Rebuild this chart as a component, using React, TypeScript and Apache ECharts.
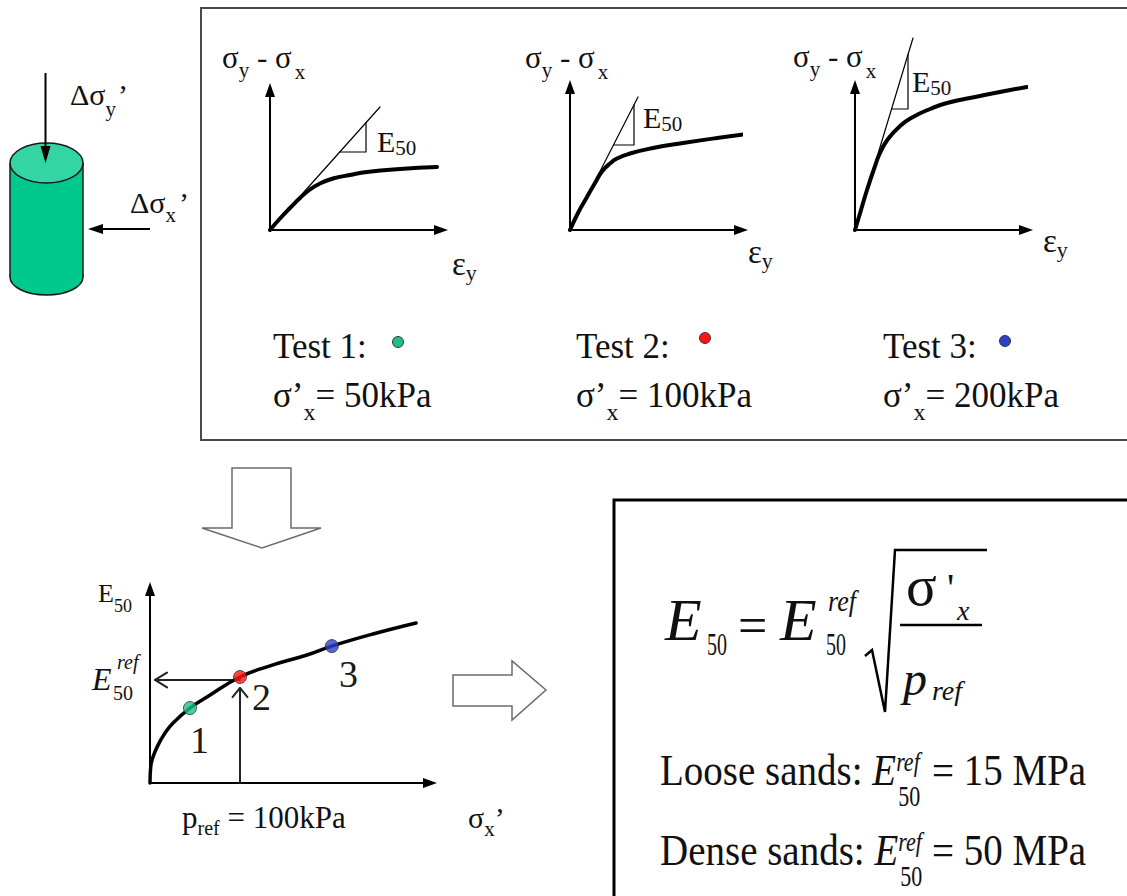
import React, { useEffect, useRef } from 'react';
import * as echarts from 'echarts';

const SERIF = '"Liberation Serif", "Times New Roman", serif';
const INK = '#111';

// ---------- Top row: three triaxial tests (units: strain / deviator stress, plot units) ----------
const test1Curve = [[0, 0], [10, 11.5], [20, 22], [30, 32], [40, 40.5], [50, 46.5], [63, 51.5], [80, 55], [97, 58], [130, 61], [167, 63]];
const test2Curve = [[0, 0], [8, 17], [17, 33], [25, 47], [32, 58.5], [40, 66.5], [47, 71.5], [60, 76.5], [83, 82], [113, 87], [147, 92], [185, 97]];
const test3Curve = [[0, 0], [6, 20], [12, 40], [19, 61], [25, 77], [33, 91], [45, 104], [58, 113], [75, 121], [92, 127], [125, 134], [150, 139], [172, 143]];
const test1Secant = [[0, 0], [110, 123]];
const test2Secant = [[0, 0], [68, 133]];
const test3Secant = [[0, 0], [58, 192]];
const test1Slope = [[69.8, 78], [96, 78], [96, 107.3]];
const test2Slope = [[43.5, 85], [64, 85], [64, 125.2]];
const test3Slope = [[36.6, 121], [53, 121], [53, 175.4]];
const testNames = ['Test 1:', 'Test 2:', 'Test 3:'];
const confiningTexts = ['= 50kPa', '= 100kPa', '= 200kPa'];
const testColors = ['#1fbf8c', '#ff1414', '#2f3fc8'];

// ---------- E50 vs sigma'x ----------
const e50Curve = [[0, 0], [0.8, 7.6], [3.3, 12.3], [8.9, 17.9], [16.7, 23.6], [25.6, 28.4], [44.4, 35.4], [63.3, 40.6], [100, 50.1], [136.7, 55.8], [174.4, 60.5], [202, 64.7], [247.8, 70.4], [295.6, 75.6]];
const e50Points = [[44.4, 35.4], [100, 50.1], [202, 64.7]];
const pointLabels = ['1', '2', '3'];
const P_REF = 100;
const E50_REF = 48.7;
const E_ARROW_TIP = 5.6;
const P_ARROW_TIP = 44.9;

const measureCtx: CanvasRenderingContext2D | null =
  typeof document !== 'undefined' ? document.createElement('canvas').getContext('2d') : null;
function textWidth(t: string, fs: number, it?: boolean) {
  if (!measureCtx) return t.length * fs * 0.5;
  measureCtx.font = `${it ? 'italic ' : ''}${fs}px ${SERIF}`;
  return measureCtx.measureText(t).width;
}

type Part = { t: string; fs: number; b: number; it?: boolean; x?: number; sy?: number; gap?: number; fill?: string };

function textEl(t: string, x: number, b: number, fs: number, it = false, sy = 1, fill = INK) {
  return {
    type: 'text',
    x,
    y: b,
    scaleY: sy,
    silent: true,
    style: {
      x: 0,
      y: -0.3375 * fs,
      text: t,
      font: `${it ? 'italic ' : ''}${fs}px ${SERIF}`,
      fill,
      align: 'left',
      verticalAlign: 'middle',
      textAlign: 'left',
      textVerticalAlign: 'middle',
    },
  };
}

function run(x0: number, parts: Part[]) {
  const els: any[] = [];
  let x = x0;
  for (const p of parts) {
    const px = p.x != null ? p.x : x + (p.gap || 0);
    els.push(textEl(p.t, px, p.b, p.fs, !!p.it, p.sy || 1, p.fill || INK));
    x = px + textWidth(p.t, p.fs, p.it);
  }
  return els;
}

function buildGraphic() {
  const els: any[] = [];
  // boxes
  els.push({ type: 'rect', silent: true, shape: { x: 201, y: 8, width: 960, height: 432 }, style: { fill: 'none', stroke: '#4a4a4a', lineWidth: 2 } });
  els.push({ type: 'rect', silent: true, shape: { x: 614, y: 500, width: 560, height: 440 }, style: { fill: 'none', stroke: '#000', lineWidth: 3 } });

  // cylinder
  const cyl = '#00c98d';
  els.push({ type: 'ellipse', silent: true, shape: { cx: 46.5, cy: 277, rx: 36.5, ry: 18 }, style: { fill: cyl, stroke: '#1a1a1a', lineWidth: 1.5 } });
  els.push({ type: 'rect', silent: true, shape: { x: 10, y: 163, width: 73, height: 114 }, style: { fill: cyl } });
  els.push({ type: 'line', silent: true, shape: { x1: 10, y1: 163, x2: 10, y2: 277 }, style: { stroke: '#1a1a1a', lineWidth: 1.5 } });
  els.push({ type: 'line', silent: true, shape: { x1: 83, y1: 163, x2: 83, y2: 277 }, style: { stroke: '#1a1a1a', lineWidth: 1.5 } });
  els.push({ type: 'ellipse', silent: true, shape: { cx: 46.5, cy: 163, rx: 36.5, ry: 20 }, style: { fill: '#33d6a3', stroke: '#1a1a1a', lineWidth: 1.5 } });
  // load arrows
  els.push({ type: 'line', silent: true, shape: { x1: 45.5, y1: 73, x2: 45.5, y2: 150 }, style: { stroke: '#000', lineWidth: 2 } });
  els.push({ type: 'polygon', silent: true, shape: { points: [[40.5, 146], [50.5, 146], [45.5, 163]] }, style: { fill: '#000' } });
  els.push({ type: 'line', silent: true, shape: { x1: 150, y1: 229, x2: 98, y2: 229 }, style: { stroke: '#000', lineWidth: 2 } });
  els.push({ type: 'polygon', silent: true, shape: { points: [[103, 224], [103, 234], [88, 229]] }, style: { fill: '#000' } });
  els.push(...run(70, [{ t: 'Δσ', fs: 30, b: 105 }, { t: 'y', fs: 21, b: 116 }, { t: '’', fs: 30, b: 105, gap: 2 }]));
  els.push(...run(130, [{ t: 'Δσ', fs: 30, b: 213 }, { t: 'x', fs: 21, b: 222 }, { t: '’', fs: 30, b: 213, gap: 3 }]));

  // plot titles
  const titleX = [222, 525, 793];
  const titleB = [68, 68, 67];
  titleX.forEach((x, i) => {
    els.push(...run(x, [
      { t: 'σ', fs: 31, b: titleB[i] },
      { t: 'y', fs: 21, b: titleB[i] + 9 },
      { t: ' - σ', fs: 31, b: titleB[i] },
      { t: 'x', fs: 21, b: titleB[i] + 11, gap: 3 },
    ]));
  });
  // E50 labels
  const eLab = [[377, 152], [643, 128], [912, 92]];
  eLab.forEach(([x, b]) => {
    els.push(...run(x, [{ t: 'E', fs: 30, b }, { t: '50', fs: 21, b: b + 3 }]));
  });
  // strain labels
  const epsLab = [[452, 275], [748, 263], [1043, 252]];
  epsLab.forEach(([x, b]) => {
    els.push(...run(x, [{ t: 'ε', fs: 33, b }, { t: 'y', fs: 22, b: b + 5 }]));
  });
  // test labels
  const testX = [273, 576, 883];
  const dotPos = [[398, 342], [705, 338], [1005, 341]];
  testX.forEach((x, i) => {
    els.push(...run(x, [{ t: testNames[i], fs: 35, b: 358 }]));
    els.push({ type: 'circle', silent: true, shape: { cx: dotPos[i][0], cy: dotPos[i][1], r: 5.5 }, style: { fill: testColors[i], stroke: '#333', lineWidth: 1 } });
    els.push(...run(x, [{ t: 'σ’', fs: 35, b: 407 }, { t: 'x', fs: 24, b: 420 }, { t: confiningTexts[i], fs: 35, b: 407 }]));
  });

  // hollow arrows
  els.push({ type: 'polygon', silent: true, shape: { points: [[232, 468], [291, 468], [291, 528], [321, 528], [262, 548], [202, 528], [232, 528]] }, style: { fill: '#fff', stroke: '#6b6b6b', lineWidth: 1.5 } });
  els.push({ type: 'polygon', silent: true, shape: { points: [[453, 675], [512, 675], [512, 661], [546, 690], [512, 720], [512, 706], [453, 706]] }, style: { fill: '#fff', stroke: '#6b6b6b', lineWidth: 1.5 } });

  // E50 plot labels
  els.push(...run(98, [{ t: 'E', fs: 26, b: 602 }, { t: '50', fs: 18, b: 612 }]));
  els.push(textEl('E', 92, 690, 32, true));
  els.push(textEl('ref', 117, 669, 20, true));
  els.push(textEl('50', 113, 700, 20));
  const numPos = [[190, 753], [252, 710], [339, 687]];
  numPos.forEach(([x, b], i) => els.push(textEl(pointLabels[i], x, b, 38, false, 1, '#1a1a1a')));
  els.push(...run(182, [{ t: 'p', fs: 31, b: 828 }, { t: 'ref', fs: 20, b: 835 }, { t: ' = 100kPa', fs: 31, b: 828 }]));
  els.push(...run(468, [{ t: 'σ', fs: 30, b: 828 }, { t: 'x', fs: 21, b: 836 }, { t: '’', fs: 30, b: 828 }]));

  // formula
  els.push(textEl('E', 665, 640, 60, true));
  els.push(textEl('50', 707, 655, 20, false, 1.55));
  els.push(textEl('=', 738, 643, 52));
  els.push(textEl('E', 780, 640, 60, true));
  els.push(textEl('ref', 828, 611, 26, true, 1.15));
  els.push(textEl('50', 826, 655, 20, false, 1.55));
  els.push({ type: 'polyline', silent: true, shape: { points: [[865, 656], [872, 650], [885, 712], [895, 550], [987, 550]] }, style: { stroke: '#000', lineWidth: 2.5, fill: 'none' } });
  els.push(textEl('σ', 906, 605, 57));
  els.push(textEl("'", 947, 601, 40));
  els.push(textEl('x', 957, 620, 28, true));
  els.push({ type: 'line', silent: true, shape: { x1: 900, y1: 625, x2: 982, y2: 625 }, style: { stroke: '#000', lineWidth: 2.5 } });
  els.push(textEl('p', 903, 695, 48, true));
  els.push(textEl('ref', 932, 700, 28, true));

  const sandLines: [string, number, string][] = [['Loose sands: ', 785, '= 15 MPa'], ['Dense sands: ', 865, '= 50 MPa']];
  sandLines.forEach(([label, b, val]) => {
    const x1 = 660 + textWidth(label, 39);
    els.push(textEl(label, 660, b, 39, false, 1.15));
    els.push(textEl('E', x1, b, 39, true, 1.15));
    const x2 = x1 + textWidth('E', 39, true);
    els.push(textEl('ref', x2, b - 14, 22, true, 1.2));
    els.push(textEl('50', x2 + 2, b + 21, 22, false, 1.35));
    els.push(textEl(val, 932, b, 39, false, 1.15));
  });
  return els;
}

function axisPair(gridIndex: number, xMax: number, yMax: number) {
  const axisLine = { show: true, onZero: false, lineStyle: { color: '#000', width: 2 }, symbol: ['none', 'triangle'], symbolSize: [10, 14] };
  const common = { gridIndex, type: 'value', min: 0, axisTick: { show: false }, axisLabel: { show: false }, splitLine: { show: false }, axisLine };
  return { x: { ...common, max: xMax }, y: { ...common, max: yMax } };
}

function lineSeries(idx: number, data: number[][], width: number, smooth: number | boolean = false, color = '#000') {
  return {
    type: 'line', xAxisIndex: idx, yAxisIndex: idx, data, smooth, showSymbol: false, symbol: 'none', clip: false,
    lineStyle: { color, width, cap: 'round', join: 'round' }, silent: true, z: 3,
  };
}

export default function App() {
  const ref = useRef<HTMLDivElement>(null);
  useEffect(() => {
    if (!ref.current) return;
    const chart = echarts.init(ref.current, undefined, { renderer: 'svg' });
    const axes = [axisPair(0, 171, 140), axisPair(1, 171, 143), axisPair(2, 171, 143), axisPair(3, 311.1, 91.68)];
    const hArrow = [[P_REF, E50_REF], [E_ARROW_TIP, E50_REF]];
    const hChevron = [[E_ARROW_TIP + 13.3, E50_REF + 3.5], [E_ARROW_TIP, E50_REF], [E_ARROW_TIP + 13.3, E50_REF - 3.5]];
    const vArrow = [[P_REF, 0], [P_REF, P_ARROW_TIP]];
    const vChevron = [[P_REF - 8.3, P_ARROW_TIP - 4.3], [P_REF, P_ARROW_TIP], [P_REF + 8.3, P_ARROW_TIP - 4.3]];
    const option: any = {
      animation: false,
      backgroundColor: '#ffffff',
      grid: [
        { left: 270, top: 90, width: 171, height: 140 },
        { left: 570, top: 87, width: 171, height: 143 },
        { left: 855, top: 87, width: 171, height: 143 },
        { left: 150, top: 589, width: 280, height: 194 },
      ],
      xAxis: axes.map((a) => a.x),
      yAxis: axes.map((a) => a.y),
      series: [
        lineSeries(0, test1Curve, 4, 0.5),
        lineSeries(0, test1Secant, 1.2),
        lineSeries(0, test1Slope, 1.2),
        lineSeries(1, test2Curve, 4, 0.5),
        lineSeries(1, test2Secant, 1.2),
        lineSeries(1, test2Slope, 1.2),
        lineSeries(2, test3Curve, 4, 0.5),
        lineSeries(2, test3Secant, 1.2),
        lineSeries(2, test3Slope, 1.2),
        lineSeries(3, hArrow, 2, false, '#222'),
        lineSeries(3, hChevron, 2, false, '#222'),
        lineSeries(3, vArrow, 2, false, '#222'),
        lineSeries(3, vChevron, 2, false, '#222'),
        lineSeries(3, e50Curve, 3.5, 0.45),
        {
          type: 'scatter', xAxisIndex: 3, yAxisIndex: 3, symbolSize: 13, silent: true, z: 5,
          data: e50Points.map((p, i) => ({ value: p, itemStyle: { color: testColors[i], borderColor: '#333', borderWidth: 1 } })),
        },
      ],
      graphic: { elements: buildGraphic() },
    };
    chart.setOption(option);
    return () => chart.dispose();
  }, []);
  return <div ref={ref} style={{ position: 'fixed', left: 0, top: 0, width: 1127, height: 896, background: '#fff' }} />;
}
